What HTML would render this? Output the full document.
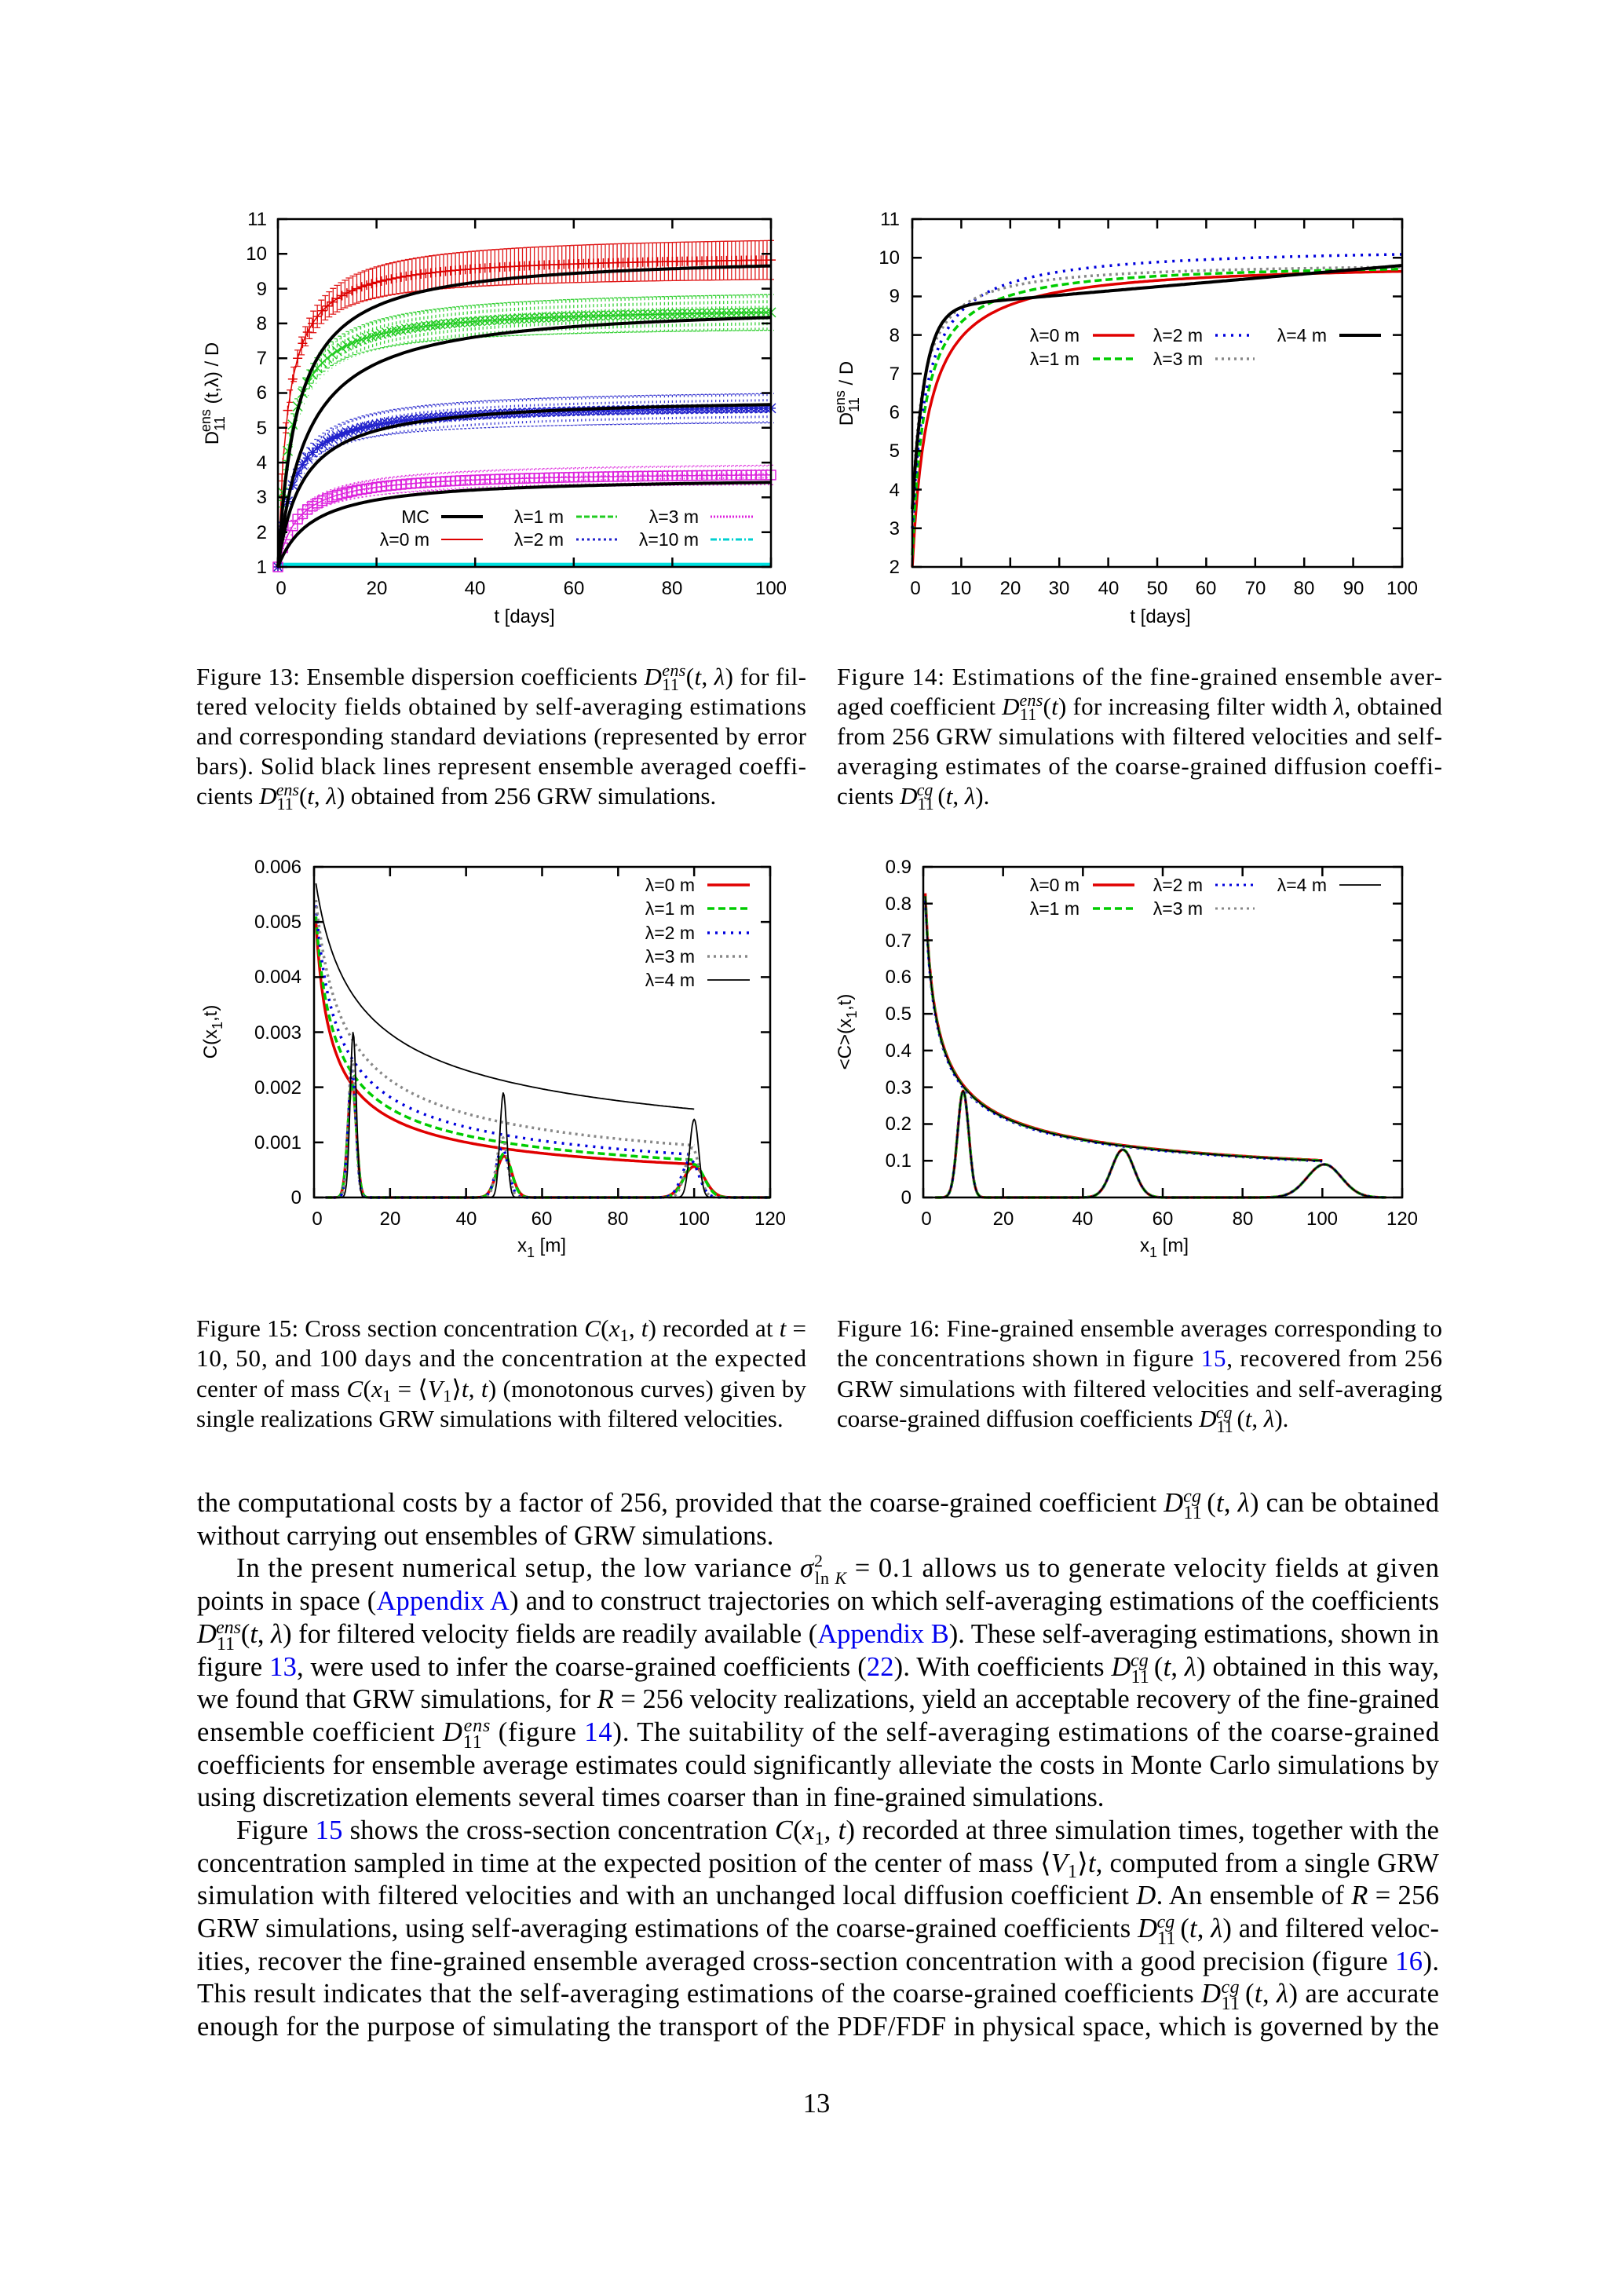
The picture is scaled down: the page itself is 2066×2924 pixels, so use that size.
<!DOCTYPE html>
<html><head><meta charset="utf-8"><style>
html,body{margin:0;padding:0;background:#fff;}
svg{display:block;}
.t{font-family:"Liberation Serif",serif;}
.s{font-family:"Liberation Sans",sans-serif;}
</style></head><body>
<svg id="g" xmlns="http://www.w3.org/2000/svg" width="2066" height="2924" viewBox="0 0 2066 2924">
<rect width="2066" height="2924" fill="#fff"/>
<g id="plots"></g>
<g class="s" font-size="24" fill="#000">
<g text-anchor="end">
<text x="340" y="730">1</text><text x="340" y="686">2</text><text x="340" y="641">3</text><text x="340" y="597">4</text><text x="340" y="553">5</text><text x="340" y="508">6</text><text x="340" y="464">7</text><text x="340" y="420">8</text><text x="340" y="376">9</text><text x="340" y="331">10</text><text x="340" y="287">11</text>
</g>
<g text-anchor="middle">
<text x="358" y="757">0</text><text x="480" y="757">20</text><text x="605" y="757">40</text><text x="731" y="757">60</text><text x="856" y="757">80</text><text x="982" y="757">100</text>
<text x="668" y="793">t [days]</text>
</g>
<text transform="translate(278,501) rotate(-90)" text-anchor="middle">D<tspan font-size="18" dy="8">11</tspan><tspan font-size="18" dx="-20" dy="-18">ens</tspan><tspan dy="10"> (t,λ)  / D</tspan></text>
<g text-anchor="end" font-size="23">
<text x="547" y="666">MC</text><text x="547" y="695">λ=0 m</text>
<text x="718" y="666">λ=1 m</text><text x="718" y="695">λ=2 m</text>
<text x="890" y="666">λ=3 m</text><text x="890" y="695">λ=10 m</text>
</g>
<g text-anchor="end">
<text x="1146" y="730">2</text><text x="1146" y="681">3</text><text x="1146" y="632">4</text><text x="1146" y="582">5</text><text x="1146" y="533">6</text><text x="1146" y="484">7</text><text x="1146" y="435">8</text><text x="1146" y="385">9</text><text x="1146" y="336">10</text><text x="1146" y="287">11</text>
</g>
<g text-anchor="middle">
<text x="1166" y="757">0</text><text x="1224" y="757">10</text><text x="1287" y="757">20</text><text x="1349" y="757">30</text><text x="1412" y="757">40</text><text x="1474" y="757">50</text><text x="1536" y="757">60</text><text x="1599" y="757">70</text><text x="1661" y="757">80</text><text x="1724" y="757">90</text><text x="1786" y="757">100</text>
<text x="1478" y="793">t [days]</text>
</g>
<text transform="translate(1086,501) rotate(-90)" text-anchor="middle">D<tspan font-size="18" dy="8">11</tspan><tspan font-size="18" dx="-20" dy="-18">ens</tspan><tspan dy="10"> / D</tspan></text>
<g text-anchor="end" font-size="23">
<text x="1375" y="435">λ=0 m</text><text x="1375" y="465">λ=1 m</text>
<text x="1532" y="435">λ=2 m</text><text x="1532" y="465">λ=3 m</text>
<text x="1690" y="435">λ=4 m</text>
</g>
<g text-anchor="end">
<text x="384" y="1533">0</text><text x="384" y="1463">0.001</text><text x="384" y="1393">0.002</text><text x="384" y="1323">0.003</text><text x="384" y="1252">0.004</text><text x="384" y="1182">0.005</text><text x="384" y="1112">0.006</text>
</g>
<g text-anchor="middle">
<text x="404" y="1560">0</text><text x="497" y="1560">20</text><text x="594" y="1560">40</text><text x="690" y="1560">60</text><text x="787" y="1560">80</text><text x="884" y="1560">100</text><text x="981" y="1560">120</text>
<text x="690" y="1594">x<tspan font-size="18" dy="7">1</tspan><tspan dy="-7"> [m]</tspan></text>
</g>
<text transform="translate(276,1314) rotate(-90)" text-anchor="middle">C(x<tspan font-size="18" dy="7">1</tspan><tspan dy="-7">,t)</tspan></text>
<g text-anchor="end" font-size="23">
<text x="885" y="1135">λ=0 m</text><text x="885" y="1165">λ=1 m</text><text x="885" y="1196">λ=2 m</text><text x="885" y="1226">λ=3 m</text><text x="885" y="1256">λ=4 m</text>
</g>
<g text-anchor="end">
<text x="1161" y="1533">0</text><text x="1161" y="1486">0.1</text><text x="1161" y="1439">0.2</text><text x="1161" y="1393">0.3</text><text x="1161" y="1346">0.4</text><text x="1161" y="1299">0.5</text><text x="1161" y="1252">0.6</text><text x="1161" y="1206">0.7</text><text x="1161" y="1159">0.8</text><text x="1161" y="1112">0.9</text>
</g>
<g text-anchor="middle">
<text x="1180" y="1560">0</text><text x="1278" y="1560">20</text><text x="1379" y="1560">40</text><text x="1481" y="1560">60</text><text x="1583" y="1560">80</text><text x="1684" y="1560">100</text><text x="1786" y="1560">120</text>
<text x="1483" y="1594">x<tspan font-size="18" dy="7">1</tspan><tspan dy="-7"> [m]</tspan></text>
</g>
<text transform="translate(1084,1314) rotate(-90)" text-anchor="middle">&lt;C&gt;(x<tspan font-size="18" dy="7">1</tspan><tspan dy="-7">,t)</tspan></text>
<g text-anchor="end" font-size="23">
<text x="1375" y="1135">λ=0 m</text><text x="1375" y="1165">λ=1 m</text>
<text x="1532" y="1135">λ=2 m</text><text x="1532" y="1165">λ=3 m</text>
<text x="1690" y="1135">λ=4 m</text>
</g>
</g>

<g class="t" font-size="31" fill="#000">
<text x="250" y="872" textLength="777" lengthAdjust="spacing">Figure 13: Ensemble dispersion coefficients <tspan font-style="italic">D</tspan><tspan font-size="22" dy="7">11</tspan><tspan font-size="22" font-style="italic" dx="-22" dy="-18">ens</tspan><tspan dy="11">(</tspan><tspan font-style="italic">t</tspan>, <tspan font-style="italic">λ</tspan>) for fil-</text>
<text x="250" y="910" textLength="777" lengthAdjust="spacing">tered velocity fields obtained by self-averaging estimations</text>
<text x="250" y="948" textLength="777" lengthAdjust="spacing">and corresponding standard deviations (represented by error</text>
<text x="250" y="986" textLength="777" lengthAdjust="spacing">bars).  Solid black lines represent ensemble averaged coeffi-</text>
<text x="250" y="1024">cients <tspan font-style="italic">D</tspan><tspan font-size="22" dy="7">11</tspan><tspan font-size="22" font-style="italic" dx="-22" dy="-18">ens</tspan><tspan dy="11">(</tspan><tspan font-style="italic">t</tspan>, <tspan font-style="italic">λ</tspan>) obtained from 256 GRW simulations.</text>

<text x="1066" y="872" textLength="771" lengthAdjust="spacing">Figure 14:  Estimations of the fine-grained ensemble aver-</text>
<text x="1066" y="910" textLength="771" lengthAdjust="spacing">aged coefficient <tspan font-style="italic">D</tspan><tspan font-size="22" dy="7">11</tspan><tspan font-size="22" font-style="italic" dx="-22" dy="-18">ens</tspan><tspan dy="11">(</tspan><tspan font-style="italic">t</tspan>) for increasing filter width <tspan font-style="italic">λ</tspan>, obtained</text>
<text x="1066" y="948" textLength="771" lengthAdjust="spacing">from 256 GRW simulations with filtered velocities and self-</text>
<text x="1066" y="986" textLength="771" lengthAdjust="spacing">averaging estimates of the coarse-grained diffusion coeffi-</text>
<text x="1066" y="1024">cients <tspan font-style="italic">D</tspan><tspan font-size="22" dy="7">11</tspan><tspan font-size="22" font-style="italic" dx="-22" dy="-18">cg</tspan><tspan dy="11" dx="6">(</tspan><tspan font-style="italic">t</tspan>, <tspan font-style="italic">λ</tspan>).</text>

<text x="250" y="1702" textLength="777" lengthAdjust="spacing">Figure 15: Cross section concentration <tspan font-style="italic">C</tspan>(<tspan font-style="italic">x</tspan><tspan font-size="22" dy="6">1</tspan><tspan dy="-6">, </tspan><tspan font-style="italic">t</tspan>) recorded at <tspan font-style="italic">t</tspan> =</text>
<text x="250" y="1740" textLength="777" lengthAdjust="spacing">10, 50, and 100 days and the concentration at the expected</text>
<text x="250" y="1779" textLength="777" lengthAdjust="spacing">center of mass <tspan font-style="italic">C</tspan>(<tspan font-style="italic">x</tspan><tspan font-size="22" dy="6">1</tspan><tspan dy="-6"> = ⟨</tspan><tspan font-style="italic">V</tspan><tspan font-size="22" dy="6">1</tspan><tspan dy="-6">⟩</tspan><tspan font-style="italic">t</tspan>, <tspan font-style="italic">t</tspan>) (monotonous curves) given by</text>
<text x="250" y="1817">single realizations GRW simulations with filtered velocities.</text>

<text x="1066" y="1702" textLength="771" lengthAdjust="spacing">Figure 16:  Fine-grained ensemble averages corresponding to</text>
<text x="1066" y="1740" textLength="771" lengthAdjust="spacing">the concentrations shown in figure <tspan fill="#0000ee">15</tspan>, recovered from 256</text>
<text x="1066" y="1779" textLength="771" lengthAdjust="spacing">GRW simulations with filtered velocities and self-averaging</text>
<text x="1066" y="1817">coarse-grained diffusion coefficients <tspan font-style="italic">D</tspan><tspan font-size="22" dy="7">11</tspan><tspan font-size="22" font-style="italic" dx="-22" dy="-18">cg</tspan><tspan dy="11" dx="6">(</tspan><tspan font-style="italic">t</tspan>, <tspan font-style="italic">λ</tspan>).</text>
</g>

<g class="t" font-size="34.5" fill="#000">
<text x="251" y="1925" textLength="1582" lengthAdjust="spacing">the computational costs by a factor of 256, provided that the coarse-grained coefficient <tspan font-style="italic">D</tspan><tspan font-size="24" dy="9">11</tspan><tspan font-size="24" font-style="italic" dx="-24" dy="-21">cg</tspan><tspan dy="12" dx="7">(</tspan><tspan font-style="italic">t</tspan>, <tspan font-style="italic">λ</tspan>) can be obtained</text>
<text x="251" y="1967">without carrying out ensembles of GRW simulations.</text>
<text x="301" y="2008" textLength="1532" lengthAdjust="spacing">In the present numerical setup, the low variance <tspan font-style="italic">σ</tspan><tspan font-size="22" dy="-13">2</tspan><tspan font-size="22" dx="-11" dy="22">ln <tspan font-style="italic">K</tspan></tspan><tspan dy="-9"> = 0.1 allows us to generate velocity fields at given</tspan></text>
<text x="251" y="2050" textLength="1582" lengthAdjust="spacing">points in space (<tspan fill="#0000ee">Appendix A</tspan>) and to construct trajectories on which self-averaging estimations of the coefficients</text>
<text x="251" y="2092" textLength="1582" lengthAdjust="spacing"><tspan font-style="italic">D</tspan><tspan font-size="24" dy="9">11</tspan><tspan font-size="24" font-style="italic" dx="-24" dy="-21">ens</tspan><tspan dy="12">(</tspan><tspan font-style="italic">t</tspan>, <tspan font-style="italic">λ</tspan>) for filtered velocity fields are readily available (<tspan fill="#0000ee">Appendix B</tspan>). These self-averaging estimations, shown in</text>
<text x="251" y="2134" textLength="1582" lengthAdjust="spacing">figure <tspan fill="#0000ee">13</tspan>, were used to infer the coarse-grained coefficients (<tspan fill="#0000ee">22</tspan>). With coefficients <tspan font-style="italic">D</tspan><tspan font-size="24" dy="9">11</tspan><tspan font-size="24" font-style="italic" dx="-24" dy="-21">cg</tspan><tspan dy="12" dx="7">(</tspan><tspan font-style="italic">t</tspan>, <tspan font-style="italic">λ</tspan>) obtained in this way,</text>
<text x="251" y="2175" textLength="1582" lengthAdjust="spacing">we found that GRW simulations, for <tspan font-style="italic">R</tspan> = 256 velocity realizations, yield an acceptable recovery of the fine-grained</text>
<text x="251" y="2217" textLength="1582" lengthAdjust="spacing">ensemble coefficient <tspan font-style="italic">D</tspan><tspan font-size="24" dy="9">11</tspan><tspan font-size="24" font-style="italic" dx="-24" dy="-21">ens</tspan><tspan dy="12"> (figure </tspan><tspan fill="#0000ee">14</tspan>).  The suitability of the self-averaging estimations of the coarse-grained</text>
<text x="251" y="2259" textLength="1582" lengthAdjust="spacing">coefficients for ensemble average estimates could significantly alleviate the costs in Monte Carlo simulations by</text>
<text x="251" y="2300">using discretization elements several times coarser than in fine-grained simulations.</text>
<text x="301" y="2342" textLength="1532" lengthAdjust="spacing">Figure <tspan fill="#0000ee">15</tspan> shows the cross-section concentration <tspan font-style="italic">C</tspan>(<tspan font-style="italic">x</tspan><tspan font-size="24" dy="7">1</tspan><tspan dy="-7">, </tspan><tspan font-style="italic">t</tspan>) recorded at three simulation times, together with the</text>
<text x="251" y="2384" textLength="1582" lengthAdjust="spacing">concentration sampled in time at the expected position of the center of mass ⟨<tspan font-style="italic">V</tspan><tspan font-size="24" dy="7">1</tspan><tspan dy="-7">⟩</tspan><tspan font-style="italic">t</tspan>, computed from a single GRW</text>
<text x="251" y="2425" textLength="1582" lengthAdjust="spacing">simulation with filtered velocities and with an unchanged local diffusion coefficient <tspan font-style="italic">D</tspan>. An ensemble of <tspan font-style="italic">R</tspan> = 256</text>
<text x="251" y="2467" textLength="1582" lengthAdjust="spacing">GRW simulations, using self-averaging estimations of the coarse-grained coefficients <tspan font-style="italic">D</tspan><tspan font-size="24" dy="9">11</tspan><tspan font-size="24" font-style="italic" dx="-24" dy="-21">cg</tspan><tspan dy="12" dx="7">(</tspan><tspan font-style="italic">t</tspan>, <tspan font-style="italic">λ</tspan>) and filtered veloc-</text>
<text x="251" y="2509" textLength="1582" lengthAdjust="spacing">ities, recover the fine-grained ensemble averaged cross-section concentration with a good precision (figure <tspan fill="#0000ee">16</tspan>).</text>
<text x="251" y="2550" textLength="1582" lengthAdjust="spacing">This result indicates that the self-averaging estimations of the coarse-grained coefficients <tspan font-style="italic">D</tspan><tspan font-size="24" dy="9">11</tspan><tspan font-size="24" font-style="italic" dx="-24" dy="-21">cg</tspan><tspan dy="12" dx="7">(</tspan><tspan font-style="italic">t</tspan>, <tspan font-style="italic">λ</tspan>) are accurate</text>
<text x="251" y="2592" textLength="1582" lengthAdjust="spacing">enough for the purpose of simulating the transport of the PDF/FDF in physical space, which is governed by the</text>
<text x="1040" y="2690" text-anchor="middle">13</text>
</g>
</svg>
<script>
(function(){
var NS='http://www.w3.org/2000/svg';
var G=document.getElementById('plots');
function el(tag,a){var e=document.createElementNS(NS,tag);for(var k in a)e.setAttribute(k,a[k]);G.appendChild(e);return e;}
function path(d,stroke,w,dash,op){var a={d:d,fill:'none',stroke:stroke,'stroke-width':w,'stroke-linejoin':'round'};if(dash)a['stroke-dasharray']=dash;if(op)a['stroke-opacity']=op;return el('path',a);}
function poly(pts,stroke,w,dash,op){var d='';for(var i=0;i<pts.length;i++)d+=(i?'L':'M')+pts[i][0].toFixed(1)+','+pts[i][1].toFixed(1);return path(d,stroke,w,dash,op);}
function lin(a0,a1,b0,b1){return function(v){return b0+(v-a0)/(a1-a0)*(b1-b0);};}
function frame(X0,X1,Y0,Y1,xs,ys,L){
  var d='';
  xs.forEach(function(x){d+='M'+x+','+Y1+'v-'+L+'M'+x+','+Y0+'v'+L;});
  ys.forEach(function(y){d+='M'+X0+','+y+'h'+L+'M'+X1+','+y+'h-'+L;});
  path(d,'#000',2.5);
  el('rect',{x:X0,y:Y0,width:X1-X0,height:Y1-Y0,fill:'none',stroke:'#000','stroke-width':2.5});
}
function rng(a,b,s){var r=[];for(var v=a;v<=b+1e-9;v+=s)r.push(v);return r;}
function sample(f,a,b,s,X,Y){return rng(a,b,s).map(function(t){return [X(t),Y(f(t))];});}

(function(){
var X=lin(0,100,354,982),Y=lin(1,11,722,279);
var sat=function(A,tau){return function(t){return 1+A*t/(t+tau);};};
el('rect',{x:354,y:Y(1.12),width:628,height:Y(1.0)-Y(1.12),fill:'#00e0e0'});
var series=[
 {f:sat(9.0,2),sd:0.55,c:'#dd0000',m:'+',dash:null},
 {f:sat(7.5,2.5),sd:0.5,c:'#22cc22',m:'x',dash:'4,3'},
 {f:sat(4.7,3),sd:0.4,c:'#2222cc',m:'*',dash:'3,4'},
 {f:sat(2.75,4),sd:0.25,c:'#dd22dd',m:'s',dash:'2,3'}
];
series.forEach(function(s){
  var d='';
  rng(0,100,0.8).forEach(function(t){
    var m=s.f(t),e=s.sd*t/(t+8)+0.05,x=X(t);
    var y1=Y(m+e),y2=Y(m-e);
    d+='M'+x.toFixed(1)+','+y1.toFixed(1)+'V'+y2.toFixed(1);
    d+='M'+(x-4).toFixed(1)+','+y1.toFixed(1)+'h8M'+(x-4).toFixed(1)+','+y2.toFixed(1)+'h8';
  });
  path(d,s.c,1.3,s.dash,0.9);
  poly(sample(s.f,0,100,1,X,Y),s.c,1.5);
  var md='';
  rng(0,100,1).forEach(function(t){
    var x=X(t),y=Y(s.f(t)),r=6;
    if(s.m=='+')md+='M'+(x-r)+','+y+'h'+2*r+'M'+x+','+(y-r)+'v'+2*r;
    else if(s.m=='x')md+='M'+(x-r)+','+(y-r)+'l'+2*r+','+2*r+'M'+(x-r)+','+(y+r)+'l'+2*r+','+(-2*r);
    else if(s.m=='*')md+='M'+(x-r)+','+y+'h'+2*r+'M'+x+','+(y-r)+'v'+2*r+'M'+(x-r)+','+(y-r)+'l'+2*r+','+2*r+'M'+(x-r)+','+(y+r)+'l'+2*r+','+(-2*r);
    else md+='M'+(x-r)+','+(y-r)+'h'+2*r+'v'+2*r+'h'+(-2*r)+'z';
  });
  path(md,s.c,1.5);
});
[[9.0,4],[7.6,6],[4.9,5],[2.6,7]].forEach(function(p){poly(sample(sat(p[0],p[1]),0,100,0.5,X,Y),'#000',4);});
frame(354,982,279,722,[354,479.6,605.2,730.8,856.4,982],rng(0,10,1).map(function(i){return 722-44.3*i;}),12);
poly([[562,658],[615,658]],'#000',4);
poly([[562,687],[615,687]],'#dd0000',2);
poly([[734,658],[786,658]],'#22cc22',3,'7,3');
poly([[734,687],[786,687]],'#2222cc',3,'3,4');
poly([[905,658],[959,658]],'#dd22dd',3,'2,2');
poly([[905,687],[959,687]],'#00d0d0',3,'8,3,2,3');
})();

(function(){
var X=lin(0,100,1162,1786),Y=lin(2,11,722,279);
function h(y0,A,tau){return function(t){return y0+A*t/(t+tau);};}
poly(sample(h(2,7.9,3.3),0,100,0.5,X,Y),'#e00000',3.5);
poly(sample(h(2.3,7.6,2.6),0,100,0.5,X,Y),'#00cc00',3.5,'9,5');
poly(sample(h(3.0,7.3,3),0,100,0.5,X,Y),'#0000dd',3.5,'3,7');
poly(sample(h(3.4,6.5,2.2),0,100,0.5,X,Y),'#888',3.5,'3,5');
poly(sample(function(t){return 3.5+5.2*(1-Math.exp(-t/2.5))+0.011*t;},0,100,0.5,X,Y),'#000',4);
frame(1162,1786,279,722,rng(0,10,1).map(function(i){return 1162+62.4*i;}),rng(0,9,1).map(function(i){return 722-49.22*i;}),12);
poly([[1392,427],[1445,427]],'#e00000',3.5);
poly([[1392,457],[1445,457]],'#00cc00',3.5,'9,5');
poly([[1548,427],[1598,427]],'#0000dd',3.5,'3,7');
poly([[1548,457],[1598,457]],'#888',3.5,'3,5');
poly([[1706,427],[1759,427]],'#000',4);
})();

function gauss(a,mu,s){return function(x){return a*Math.exp(-0.5*Math.pow((x-mu)/s,2));};}
(function(){
var X=lin(0,120,400,981),Y=lin(0,0.006,1525,1104);
function pw(c,x0,p){return function(x){return c*Math.pow((x+x0)/(0.5+x0),-p);};}
var S=[
 {c:'#e00000',w:3.5,d:null,m:pw(0.005,2,0.57),pk:[[0.0021,10,1.1],[0.00075,50,2.0],[0.00056,100,2.8]]},
 {c:'#00cc00',w:3.5,d:'9,5',m:pw(0.0051,2.5,0.57),pk:[[0.0021,10,1.1],[0.0008,50,1.9],[0.0006,100,2.6]]},
 {c:'#0000dd',w:3.5,d:'3,7',m:pw(0.0053,3,0.567),pk:[[0.0023,10,1.0],[0.0009,49.5,1.6],[0.00068,99,2.2]]},
 {c:'#888',w:3.5,d:'3,5',m:pw(0.0054,4,0.555),pk:[[0.0025,10,0.95],[0.0011,49.5,1.4],[0.0009,99.5,1.8]]},
 {c:'#000',w:1.8,d:null,m:pw(0.0057,5,0.43),pk:[[0.003,10.3,0.8],[0.0019,49.8,0.9],[0.00142,100,1.2]]}
];
S.forEach(function(s){
  var gs=s.pk.map(function(p){return gauss(p[0],p[1],p[2]);});
  poly(sample(function(x){return gs[0](x)+gs[1](x)+gs[2](x);},3,120,0.25,X,Y),s.c,s.w,s.d);
  poly(sample(s.m,0.5,100,0.5,X,Y),s.c,s.w,s.d);
});
frame(400,981,1104,1525,rng(0,6,1).map(function(i){return 400+96.83*i;}),rng(0,6,1).map(function(i){return 1525-70.17*i;}),12);
var ly=[1127,1157,1188,1218,1248];
S.forEach(function(s,i){poly([[901,ly[i]],[955,ly[i]]],s.c,s.w,s.d);});
})();

(function(){
var X=lin(0,120,1176,1786),Y=lin(0,0.9,1525,1104);
var S=[['#e00000',3.5,null,1.01],['#00cc00',3.5,'9,5',1.0],['#0000dd',3,'3,6',0.985],['#888',3,'3,5',0.995],['#000',1.8,null,1.0]];
S.forEach(function(s){
  var k=s[3];
  var g1=gauss(0.29,10,1.4),g2=gauss(0.13,50,2.8),g3=gauss(0.09,100.5,4.3);
  poly(sample(function(x){return g1(x)+g2(x)+g3(x);},3,116,0.25,X,Y),s[0],s[1],s[2]);
  poly(sample(function(x){return k*0.82*Math.pow((x+1)/1.5,-0.5);},0.5,100,0.5,X,Y),s[0],s[1],s[2]);
});
frame(1176,1786,1104,1525,rng(0,6,1).map(function(i){return 1176+101.67*i;}),rng(0,9,1).map(function(i){return 1525-46.78*i;}),12);
poly([[1392,1127],[1445,1127]],'#e00000',3.5);
poly([[1392,1157],[1445,1157]],'#00cc00',3.5,'9,5');
poly([[1548,1127],[1598,1127]],'#0000dd',3,'3,6');
poly([[1548,1157],[1598,1157]],'#888',3,'3,5');
poly([[1706,1127],[1759,1127]],'#000',1.8);
})();
})();
</script>
</body></html>
